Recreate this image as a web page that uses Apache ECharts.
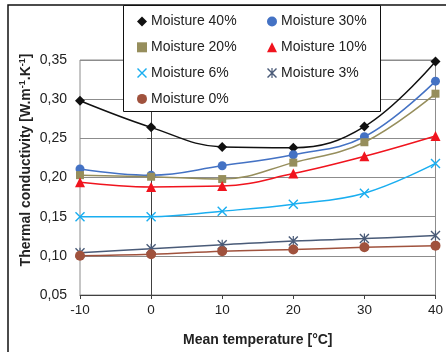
<!DOCTYPE html>
<html>
<head>
<meta charset="utf-8">
<script src="https://cdn.jsdelivr.net/npm/echarts@6/dist/echarts.min.js"></script>
<style>
html, body { margin: 0; padding: 0; background: #fff; }
#chart { width: 446px; height: 352px; }
</style>
</head>
<body>
<div id="chart"></div>
<script>
var temps = [-10, 0, 10, 20, 30, 40];
var moist40 = [0.298, 0.264, 0.239, 0.238, 0.265, 0.348];
var moist30 = [0.211, 0.203, 0.215, 0.229, 0.252, 0.323];
var moist20 = [0.203, 0.201, 0.198, 0.219, 0.245, 0.307];
var moist10 = [0.194, 0.188, 0.189, 0.205, 0.227, 0.253];
var moist6 = [0.150, 0.150, 0.157, 0.166, 0.180, 0.218];
var moist3 = [0.104, 0.109, 0.114, 0.119, 0.122, 0.126];
var moist0 = [0.100, 0.102, 0.106, 0.108, 0.111, 0.113];

var names = ['Moisture 40%', 'Moisture 30%', 'Moisture 20%', 'Moisture 10%',
             'Moisture 6%', 'Moisture 3%', 'Moisture 0%'];

var crossPath = 'path://M0,1 L1,0 L10,9 L9,10 Z M9,0 L10,1 L1,10 L0,9 Z';
var starPath = 'path://M0,1 L1,0 L10,9 L9,10 Z M9,0 L10,1 L1,10 L0,9 Z M4.4,0 L5.6,0 L5.6,10 L4.4,10 Z';

var FONT = '"Liberation Sans", Arial, sans-serif';

function makeSeries(name, values, color, symbol, size) {
	return {
		name: name,
		type: 'line',
		smooth: 0.4,
		data: values.map(function (v, i) { return [temps[i], v]; }),
		symbol: symbol,
		symbolSize: size,
		showAllSymbol: true,
		itemStyle: { color: color, opacity: 1 },
		lineStyle: { color: color, width: 1.5 },
		emphasis: { disabled: true },
		z: 2
	};
}

var chart = echarts.init(document.getElementById('chart'));

var legendBase = {
	orient: 'vertical',
	top: 14.5,
	padding: 0,
	itemGap: 11.8,
	itemWidth: 10,
	itemHeight: 10,
	selectedMode: false,
	textStyle: { fontFamily: FONT, fontSize: 14, color: '#222', lineHeight: 14, padding: [0, 0, 0, -1] },
	z: 20
};

chart.setOption({
	animation: false,
	backgroundColor: '#fff',
	grid: {
		left: 80,
		right: 9,
		top: 60,
		bottom: 53,
		show: true,
		borderColor: '#8c8c8c',
		borderWidth: 1
	},
	legend: [
		Object.assign({}, legendBase, {
			left: 137,
			data: [
				{ name: names[0], icon: 'diamond' },
				{ name: names[2], icon: 'rect' },
				{ name: names[4], icon: crossPath },
				{ name: names[6], icon: 'circle' }
			]
		}),
		Object.assign({}, legendBase, {
			left: 267,
			data: [
				{ name: names[1], icon: 'circle' },
				{ name: names[3], icon: 'triangle' },
				{ name: names[5], icon: starPath }
			]
		})
	],
	graphic: [
		{
			type: 'rect',
			z: 10,
			shape: { x: 8, y: 5, width: 460, height: 370 },
			style: { fill: null, stroke: '#111', lineWidth: 1.5 }
		},
		{
			type: 'rect',
			z: 11,
			shape: { x: 123.5, y: 5.5, width: 257, height: 106 },
			style: { fill: '#fff', stroke: '#111', lineWidth: 1 }
		},
		{
			type: 'text',
			z: 12,
			x: 26,
			y: 160,
			rotation: Math.PI / 2,
			style: {
				text: '{a|Thermal conductivity [W.m}{s|-1}{a|.K}{s|-1}{a|]}',
				align: 'center',
				verticalAlign: 'middle',
				rich: {
					a: { fontFamily: FONT, fontSize: 14, fontWeight: 'bold', fill: '#222', lineHeight: 16 },
					s: { fontFamily: FONT, fontSize: 9, fontWeight: 'bold', fill: '#222', lineHeight: 9, verticalAlign: 'top' }
				}
			}
		}
	],
	xAxis: {
		type: 'value',
		min: -10,
		max: 40,
		interval: 10,
		name: 'Mean temperature [°C]',
		nameLocation: 'middle',
		nameGap: 38,
		nameTextStyle: { fontFamily: FONT, fontSize: 14, fontWeight: 'bold', color: '#222' },
		axisLine: { onZero: false, lineStyle: { color: '#404040', width: 1 } },
		axisTick: { show: true, length: 4, lineStyle: { color: '#404040' } },
		axisLabel: { fontFamily: FONT, fontSize: 13.5, color: '#222', margin: 8 },
		splitLine: { show: false }
	},
	yAxis: {
		type: 'value',
		min: 0.05,
		max: 0.35,
		interval: 0.05,
		axisLine: { show: true, lineStyle: { color: '#404040', width: 1 } },
		axisTick: { show: true, length: 4, lineStyle: { color: '#404040' } },
		axisLabel: {
			fontFamily: FONT,
			fontSize: 14,
			color: '#222',
			margin: 13,
			formatter: function (v) { return v.toFixed(2).replace('.', ','); }
		},
		splitLine: { show: true, lineStyle: { color: '#8c8c8c', width: 1 } }
	},
	series: [
		makeSeries(names[0], moist40, '#111111', 'diamond', 10),
		makeSeries(names[1], moist30, '#4472c4', 'circle', 9),
		makeSeries(names[2], moist20, '#968e5c', 'rect', 8),
		makeSeries(names[3], moist10, '#f0141e', 'triangle', 10),
		makeSeries(names[4], moist6, '#1aaef0', crossPath, 10),
		makeSeries(names[5], moist3, '#4a5b78', starPath, 10),
		makeSeries(names[6], moist0, '#a0523d', 'circle', 10)
	]
});
</script>
</body>
</html>
